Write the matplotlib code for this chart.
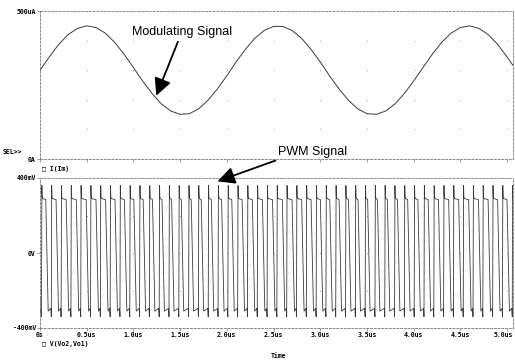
import matplotlib.pyplot as plt
import matplotlib.transforms as mtrans
import numpy as np

# modulating signal I(Im), read every 0.1us
sine_t = [0.0, 0.1, 0.2, 0.3, 0.4, 0.5, 0.6, 0.7, 0.8, 0.9,
          1.0, 1.1, 1.2, 1.3, 1.4, 1.5, 1.6, 1.7, 1.8, 1.9,
          2.0, 2.1, 2.2, 2.3, 2.4, 2.5, 2.6, 2.7, 2.8, 2.9,
          3.0, 3.1, 3.2, 3.3, 3.4, 3.5, 3.6, 3.7, 3.8, 3.9,
          4.0, 4.1, 4.2, 4.3, 4.4, 4.5, 4.6, 4.7, 4.8, 4.9,
          5.0, 5.1]
sine_uA = [300, 345, 387, 420, 441, 450, 444, 425, 394, 354,
           309, 263, 221, 186, 162, 151, 153, 170, 199, 237,
           281, 328, 371, 408, 434, 448, 448, 434, 408, 371,
           328, 281, 237, 199, 170, 153, 151, 162, 186, 221,
           263, 309, 354, 394, 425, 444, 450, 441, 420, 387,
           345, 300]

# PWM V(Vo2,Vo1): one duty value per carrier cycle
pwm_start = 0.02
pwm_period = 0.105
pwm_duty = [0.53, 0.58, 0.61, 0.64, 0.65, 0.65, 0.63, 0.59, 0.55, 0.51,
            0.46, 0.41, 0.38, 0.36, 0.35, 0.36, 0.38, 0.41, 0.46, 0.50,
            0.55, 0.59, 0.62, 0.65, 0.65, 0.64, 0.62, 0.58, 0.53, 0.49,
            0.44, 0.40, 0.37, 0.35, 0.35, 0.36, 0.39, 0.43, 0.47, 0.52,
            0.57, 0.61, 0.63, 0.65, 0.65, 0.63, 0.60, 0.56, 0.52]
v_spike_hi = 360
v_high = 290
v_low = -295
v_spike_lo = -340

x_ticks = [0, 0.5, 1.0, 1.5, 2.0, 2.5, 3.0, 3.5, 4.0, 4.5, 5.0]
x_labels = ['0s', '0.5us', '1.0us', '1.5us', '2.0us', '2.5us',
            '3.0us', '3.5us', '4.0us', '4.5us', '5.0us']

# build the pwm trace from the per-cycle duty values
pt, pv = [0.0, 0.0], [v_low + 60, v_low]
for k, d in enumerate(pwm_duty):
    t0 = pwm_start + k * pwm_period
    tf = t0 + d * pwm_period
    pt += [t0 - 0.004, t0, t0 + 0.003, t0 + 0.008, tf - 0.014, tf + 0.012,
           t0 + pwm_period - 0.008]
    pv += [v_spike_lo, v_spike_hi, v_high + 10, v_high, v_high - 5,
           v_low - 15, v_low]

mono = dict(family='DejaVu Sans Mono', fontsize=4.7, fontweight='bold')
gridc = '#999999'
xmax = 5.064

fig = plt.figure(figsize=(5.15, 3.62), dpi=100)
ax1 = fig.add_axes([40/515, 1-159/362, 473/515, 148/362])
ax2 = fig.add_axes([40/515, 1-328/362, 473/515, 150/362])

ax1.plot(sine_t, sine_uA, color='#3a3a3a', lw=0.7)
ax1.set_ylim(0, 500)
ax2.plot(pt, pv, color='#3a3a3a', lw=0.6)
ax2.set_ylim(-400, 400)

for ax in (ax1, ax2):
    ax.set_xlim(0, xmax)
    for s in ax.spines.values():
        s.set_linestyle((0, (2.5, 2)))
        s.set_linewidth(0.6)
        s.set_color('#777777')
    ax.tick_params(length=2, width=0.5, colors='#777777', labelcolor='black',
                   pad=1)
    ax.set_xticks(x_ticks)

ax1.set_xticklabels([])
ax1.set_yticks([0, 500])
ax1.set_yticklabels(['0A', '500uA'], **mono)
ax2.set_yticks([-400, 0, 400])
ax2.set_yticklabels(['-400mV', '0V', '400mV'], **mono)
ax2.set_xticklabels(x_labels, **mono)
# keep the last label inside the figure
last = ax2.get_xticklabels()[-1]
last.set_transform(last.get_transform() +
                   mtrans.ScaledTranslation(-4/100, 0, fig.dpi_scale_trans))

# dotted grid points
gx = np.array(x_ticks)
for yy in [100, 200, 300, 400]:
    ax1.scatter(gx, [yy]*len(gx), s=0.4, color=gridc, lw=0)
for yy in [-200, 0, 200]:
    ax2.scatter(gx, [yy]*len(gx), s=0.4, color=gridc, lw=0)

fig.text(3/515, 1-152/362, 'SEL>>', va='center', ha='left', **mono)
fig.text(42/515, 1-169/362, '\u25a1 I(Im)', va='center', ha='left', **mono)
fig.text(42/515, 1-344/362, '\u25a1 V(Vo2,Vo1)', va='center', ha='left', **mono)
fig.text(278/515, 1-356/362, 'Time', va='center', ha='center', **mono)

ax1.annotate('Modulating Signal', xy=(1.245, 214), xytext=(1.52, 410),
             ha='center', va='bottom', fontsize=9, family='Liberation Sans',
             arrowprops=dict(arrowstyle='-|>', color='black', lw=1.3,
                             mutation_scale=26, shrinkA=1, shrinkB=0))
ax2.annotate('PWM Signal', xy=(1.9, 382), xytext=(2.92, 505),
             ha='center', va='bottom', fontsize=9, family='Liberation Sans',
             annotation_clip=False,
             arrowprops=dict(arrowstyle='-|>', color='black', lw=1.3,
                             mutation_scale=26, shrinkA=0, shrinkB=0,
                             relpos=(0.05, 0.0)))

fig.savefig('out.png', dpi=100)
